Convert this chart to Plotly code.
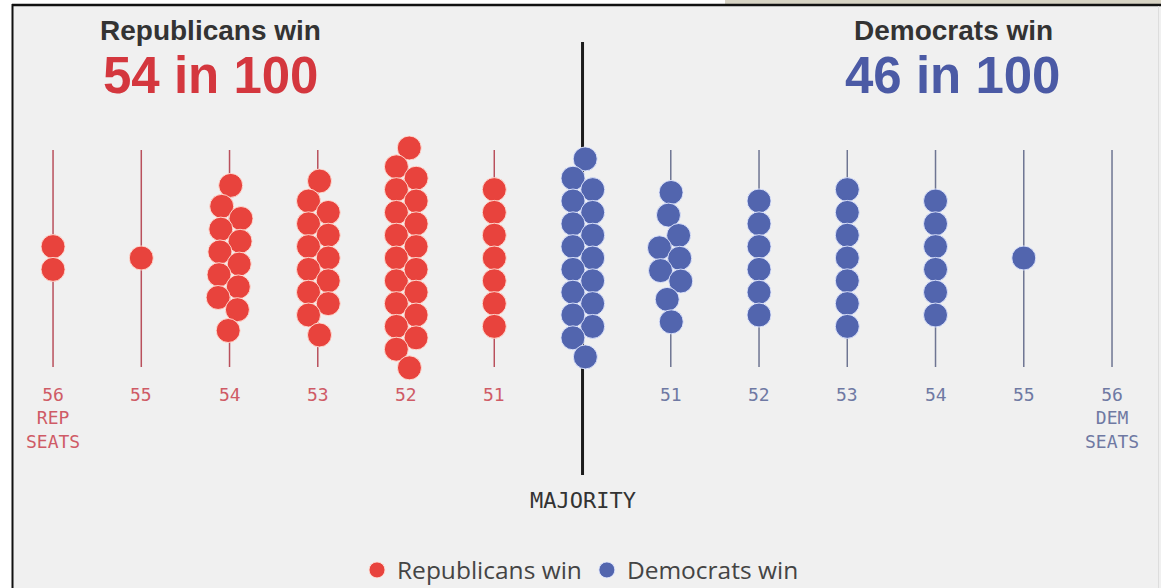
import numpy as np
import plotly.graph_objects as go

# ---------------- data ----------------
rep_seats = [56, 55, 54, 53, 52, 51]
rep_counts = [2, 1, 12, 13, 19, 7]
rep_labels = ["56<br>REP<br>SEATS", "55", "54", "53", "52", "51"]

dem_seats = [50, 51, 52, 53, 54, 55, 56]
dem_counts = [17, 9, 6, 7, 6, 1, 0]
dem_labels = ["", "51", "52", "53", "54", "55", "56<br>DEM<br>SEATS"]

majority_seats = 50
n_simulations = 100

# ---------------- layout constants ----------------
FIG_W, FIG_H = 1161, 588
X_RANGE = [-6.601, 6.555]
PX_PER_UNIT = FIG_W / (X_RANGE[1] - X_RANGE[0])
CY = 258           # vertical centre of swarms (px, y axis is in px units)
LINE_TOP, LINE_BOT = 150, 367
DOT_SIZE = 24

REP_DOT = "#e8433d"
DEM_DOT = "#5265ae"
REP_LINE = "#b9505c"
DEM_LINE = "#6e7592"
REP_LABEL = "#cf5b66"
DEM_LABEL = "#6f79a3"
MONO = "DejaVu Sans Mono"
SANS = "Open Sans"
TITLE_FONT = "Liberation Sans"


def rep_pos(s):
    return -(s - majority_seats)


def dem_pos(s):
    return s - majority_seats


def beeswarm(n, cx, cy, sx=0.9, sy=0.04, radius=11.4, ticks=300, iters=3):
    """d3-style force layout: forceX, forceY, forceCollide (deterministic init)."""
    if n == 0:
        return np.array([]), np.array([])
    idx = np.arange(n)
    golden = np.pi * (3 - np.sqrt(5))
    x = cx + 2.0 * np.cos(idx * golden)
    y = cy + (idx - (n - 1) / 2) * 2 * radius * 0.95
    vx = np.zeros(n)
    vy = np.zeros(n)
    alpha = 1.0
    decay = 1 - 0.001 ** (1 / 300)
    rr = 2 * radius
    for _ in range(ticks):
        alpha += (0 - alpha) * decay
        vx += (cx - x) * sx * alpha
        vy += (cy - y) * sy * alpha
        for _ in range(iters):
            for a in range(n):
                xi = x[a] + vx[a]
                yi = y[a] + vy[a]
                for b in range(a + 1, n):
                    dx = xi - x[b] - vx[b]
                    dy = yi - y[b] - vy[b]
                    l2 = dx * dx + dy * dy
                    if l2 < rr * rr:
                        l = np.sqrt(l2)
                        k = (rr - l) / l
                        dx *= k
                        dy *= k
                        vx[a] += dx * 0.5
                        vy[a] += dy * 0.5
                        vx[b] -= dx * 0.5
                        vy[b] -= dy * 0.5
        vx *= 0.6
        vy *= 0.6
        x += vx
        y += vy
    return x, y


def swarm_points(positions, counts):
    xs, ys = [], []
    for p, n in zip(positions, counts):
        cx_px = p * PX_PER_UNIT
        px, py = beeswarm(n, cx_px, CY)
        xs.extend(list(p + (px - cx_px) / PX_PER_UNIT))
        ys.extend(list(py))
    return xs, ys


rep_positions = [rep_pos(s) for s in rep_seats]
dem_positions = [dem_pos(s) for s in dem_seats]

rep_x, rep_y = swarm_points(rep_positions, rep_counts)
dem_x, dem_y = swarm_points(dem_positions, dem_counts)

fig = go.Figure()

fig.add_trace(go.Scatter(
    x=rep_x, y=rep_y, mode="markers", name="Republicans win",
    marker=dict(size=DOT_SIZE, color=REP_DOT,
                line=dict(width=1, color="rgba(255,225,215,0.9)")),
    hoverinfo="skip"))
fig.add_trace(go.Scatter(
    x=dem_x, y=dem_y, mode="markers", name="Democrats win",
    marker=dict(size=DOT_SIZE, color=DEM_DOT,
                line=dict(width=1, color="rgba(225,232,255,0.9)")),
    hoverinfo="skip"))

shapes = []
# frame / background
shapes.append(dict(type="rect", xref="paper", yref="paper",
                   x0=13 / FIG_W, x1=1, y0=0, y1=1 - 5 / FIG_H,
                   fillcolor="#f0f0f0", line=dict(width=0), layer="below"))
shapes.append(dict(type="rect", xref="paper", yref="paper",
                   x0=725 / FIG_W, x1=1, y0=1 - 4 / FIG_H, y1=1,
                   fillcolor="#d7d3c4", line=dict(width=0), layer="below"))
shapes.append(dict(type="line", xref="paper", yref="paper",
                   x0=12 / FIG_W, x1=1, y0=1 - 5 / FIG_H, y1=1 - 5 / FIG_H,
                   line=dict(color="#111", width=2.5), layer="below"))
shapes.append(dict(type="line", xref="paper", yref="paper",
                   x0=12.5 / FIG_W, x1=12.5 / FIG_W, y0=0, y1=1 - 4 / FIG_H,
                   line=dict(color="#111", width=2), layer="below"))
shapes.append(dict(type="line", xref="paper", yref="paper",
                   x0=1158.5 / FIG_W, x1=1158.5 / FIG_W, y0=0, y1=1 - 6 / FIG_H,
                   line=dict(color="#dddddd", width=1), layer="below"))

# column lines
for p in rep_positions:
    shapes.append(dict(type="line", x0=p, x1=p, y0=LINE_TOP, y1=LINE_BOT,
                       line=dict(color=REP_LINE, width=1.5), layer="below"))
for p in dem_positions:
    if p == 0:
        continue
    shapes.append(dict(type="line", x0=p, x1=p, y0=LINE_TOP, y1=LINE_BOT,
                       line=dict(color=DEM_LINE, width=1.5), layer="below"))
# majority line
shapes.append(dict(type="line", x0=0, x1=0, y0=42, y1=475,
                   line=dict(color="#1c1c1c", width=3), layer="below"))

annotations = []
for p, lab in zip(rep_positions, rep_labels):
    annotations.append(dict(x=p, y=382, text=lab, showarrow=False, yanchor="top",
                            xanchor="center",
                            font=dict(family=MONO, size=18, color=REP_LABEL)))
for p, lab in zip(dem_positions, dem_labels):
    if lab:
        annotations.append(dict(x=p, y=382, text=lab, showarrow=False, yanchor="top",
                                xanchor="center",
                                font=dict(family=MONO, size=18, color=DEM_LABEL)))
annotations.append(dict(x=0, y=500, text="MAJORITY", showarrow=False, yanchor="middle",
                        xanchor="center",
                        font=dict(family=MONO, size=22, color="#333333")))

rep_total = sum(rep_counts)
dem_total = sum(dem_counts)
annotations += [
    dict(xref="paper", x=211 / FIG_W, y=30.3, text="<b>Republicans win</b>", showarrow=False,
         xanchor="center", yanchor="middle",
         font=dict(family=TITLE_FONT, size=28, color="#333333")),
    dict(xref="paper", x=210 / FIG_W, y=75.3, text=f"<b>{rep_total} in {n_simulations}</b>",
         showarrow=False, xanchor="center", yanchor="middle",
         font=dict(family=TITLE_FONT, size=51, color="#d4373e")),
    dict(xref="paper", x=953 / FIG_W, y=30.3, text="<b>Democrats win</b>", showarrow=False,
         xanchor="center", yanchor="middle",
         font=dict(family=TITLE_FONT, size=28, color="#333333")),
    dict(xref="paper", x=952 / FIG_W, y=75.3, text=f"<b>{dem_total} in {n_simulations}</b>",
         showarrow=False, xanchor="center", yanchor="middle",
         font=dict(family=TITLE_FONT, size=51, color="#4b5aa5")),
]

fig.update_layout(
    width=FIG_W, height=FIG_H, autosize=False,
    margin=dict(l=0, r=0, t=0, b=0, pad=0, autoexpand=False),
    paper_bgcolor="#ffffff", plot_bgcolor="rgba(0,0,0,0)",
    xaxis=dict(range=X_RANGE, visible=False, fixedrange=True),
    yaxis=dict(range=[FIG_H, 0], visible=False, fixedrange=True),
    shapes=shapes, annotations=annotations,
    showlegend=True,
    legend=dict(orientation="h", x=0.5, xanchor="center", y=1 - 570 / FIG_H, yanchor="middle",
                font=dict(family=SANS, size=24.5, color="#444444"), bgcolor="rgba(0,0,0,0)"),
)

fig.write_html(
    "out.html",
    config={"responsive": False, "displayModeBar": False, "staticPlot": True},
    post_script="document.body.style.margin='0';document.body.style.padding='0';"
                "document.body.style.overflow='hidden';",
)
